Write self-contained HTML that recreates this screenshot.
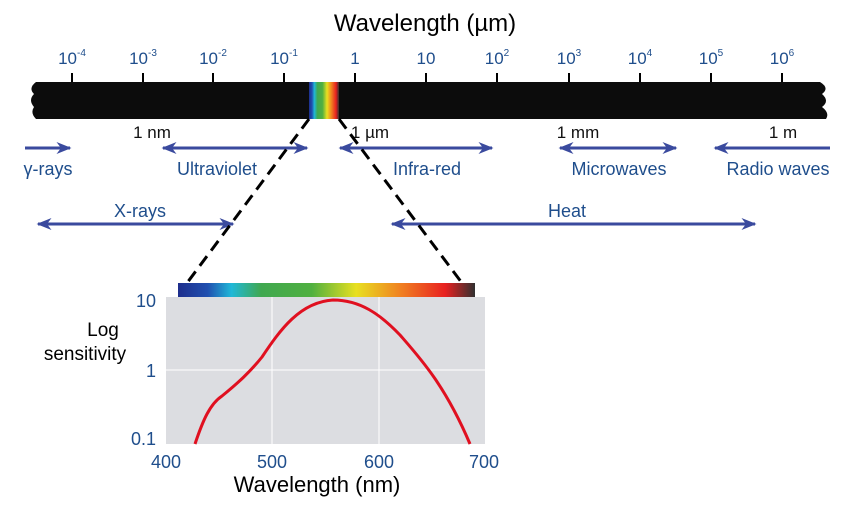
<!DOCTYPE html>
<html><head><style>body{margin:0;background:#fff}svg text{font-family:"Liberation Sans",sans-serif}</style></head><body>
<svg width="850" height="502" viewBox="0 0 850 502">
<defs>
<linearGradient id="sp" x1="0" x2="1"><stop offset="0" stop-color="#1e2e8c"/><stop offset="0.1" stop-color="#2050b0"/><stop offset="0.18" stop-color="#20b8d8"/><stop offset="0.28" stop-color="#40a850"/><stop offset="0.45" stop-color="#50b040"/><stop offset="0.6" stop-color="#e8e020"/><stop offset="0.75" stop-color="#f08020"/><stop offset="0.9" stop-color="#e82020"/><stop offset="1" stop-color="#303030"/></linearGradient>
<marker id="ah" viewBox="0 0 10 10" refX="9" refY="5" markerWidth="5" markerHeight="5" orient="auto-start-reverse"><path d="M0,1 L10,5 L0,9 L3,5z" fill="#3a4a9e"/></marker>
</defs>
<text x="425" y="31" font-size="24" text-anchor="middle">Wavelength (µm)</text>
<g font-size="17" fill="#1f4e8c" text-anchor="middle">
<text x="72" y="64">10<tspan font-size="10" dy="-8">-4</tspan></text>
<text x="143" y="64">10<tspan font-size="10" dy="-8">-3</tspan></text>
<text x="213" y="64">10<tspan font-size="10" dy="-8">-2</tspan></text>
<text x="284" y="64">10<tspan font-size="10" dy="-8">-1</tspan></text>
<text x="355" y="64">1</text>
<text x="426" y="64">10</text>
<text x="497" y="64">10<tspan font-size="10" dy="-8">2</tspan></text>
<text x="569" y="64">10<tspan font-size="10" dy="-8">3</tspan></text>
<text x="640" y="64">10<tspan font-size="10" dy="-8">4</tspan></text>
<text x="711" y="64">10<tspan font-size="10" dy="-8">5</tspan></text>
<text x="782" y="64">10<tspan font-size="10" dy="-8">6</tspan></text>
</g>
<g stroke="#000" stroke-width="2">
<line x1="72" y1="73" x2="72" y2="83"/><line x1="143" y1="73" x2="143" y2="83"/><line x1="213" y1="73" x2="213" y2="83"/><line x1="284" y1="73" x2="284" y2="83"/><line x1="355" y1="73" x2="355" y2="83"/><line x1="426" y1="73" x2="426" y2="83"/><line x1="497" y1="73" x2="497" y2="83"/><line x1="569" y1="73" x2="569" y2="83"/><line x1="640" y1="73" x2="640" y2="83"/><line x1="711" y1="73" x2="711" y2="83"/><line x1="782" y1="73" x2="782" y2="83"/>
</g>
<path d="M36,82 L820,82 Q830,88 822,94 Q830,101 822,107 Q830,113 826,119 L36,119 Q30,113 34,107 Q28,100 34,94 Q28,88 36,82z" fill="#0c0c0c"/>
<rect x="309" y="82" width="30" height="37" fill="url(#sp)"/>
<g font-size="17" fill="#111" text-anchor="middle">
<text x="152" y="138">1 nm</text><text x="370" y="138">1 µm</text><text x="578" y="138">1 mm</text><text x="783" y="138">1 m</text>
</g>
<g stroke="#3a4a9e" stroke-width="3" marker-end="url(#ah)">
<line x1="25" y1="148" x2="70" y2="148"/>
<line x1="163" y1="148" x2="307" y2="148" marker-start="url(#ah)"/>
<line x1="340" y1="148" x2="492" y2="148" marker-start="url(#ah)"/>
<line x1="560" y1="148" x2="676" y2="148" marker-start="url(#ah)"/>
<line x1="830" y1="148" x2="715" y2="148"/>
<line x1="38" y1="224" x2="233" y2="224" marker-start="url(#ah)"/>
<line x1="392" y1="224" x2="755" y2="224" marker-start="url(#ah)"/>
</g>
<g font-size="18" fill="#1f4e8c" text-anchor="middle">
<text x="48" y="175">γ-rays</text><text x="217" y="175">Ultraviolet</text><text x="427" y="175">Infra-red</text><text x="619" y="175">Microwaves</text><text x="778" y="175">Radio waves</text>
<text x="140" y="217">X-rays</text><text x="567" y="217">Heat</text>
</g>
<g stroke="#000" stroke-width="3" stroke-dasharray="12,7">
<line x1="309" y1="119" x2="187" y2="283"/><line x1="339" y1="119" x2="462" y2="283"/>
</g>
<rect x="166" y="297" width="319" height="147" fill="#dcdde1"/>
<g stroke="#fff" stroke-width="1"><line x1="272" y1="297" x2="272" y2="444"/><line x1="379" y1="297" x2="379" y2="444"/><line x1="166" y1="370" x2="485" y2="370"/></g>
<rect x="178" y="283" width="297" height="14" fill="url(#sp)"/>
<path d="M195,444 C203,420 210,404 222,396 C238,383 250,372 262,357 C280,330 300,302 333,300 C360,300 380,314 400,335 C420,358 445,385 470,444" fill="none" stroke="#e01020" stroke-width="3"/>
<g font-size="18" fill="#1f4e8c">
<text x="156" y="307" text-anchor="end">10</text><text x="156" y="377" text-anchor="end">1</text><text x="156" y="445" text-anchor="end">0.1</text>
<g text-anchor="middle"><text x="166" y="468">400</text><text x="272" y="468">500</text><text x="379" y="468">600</text><text x="484" y="468">700</text></g>
</g>
<text x="103" y="336" font-size="19" text-anchor="middle">Log</text>
<text x="85" y="360" font-size="19" text-anchor="middle">sensitivity</text>
<text x="317" y="492" font-size="22" text-anchor="middle">Wavelength (nm)</text>
</svg>
</body></html>
